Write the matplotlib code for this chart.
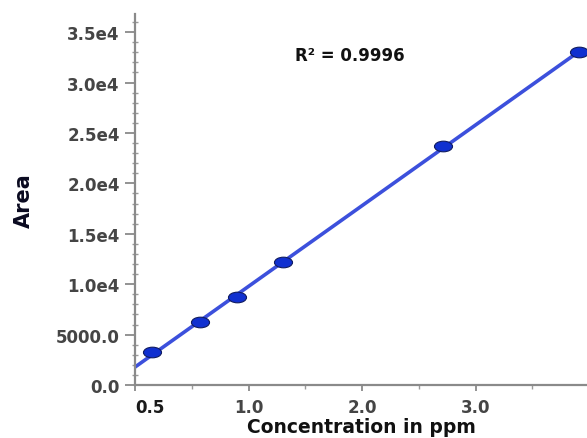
import numpy as np
import matplotlib
matplotlib.use("Agg")
import matplotlib.pyplot as plt
from matplotlib.path import Path
from matplotlib.transforms import Affine2D
from matplotlib.ticker import MultipleLocator, FixedLocator

# Data
conc = [0.147, 0.573, 0.896, 1.307, 2.716, 3.906]
area = [3240, 6220, 8700, 12230, 23730, 32990]
r2_text = "R\u00b2 = 0.9996"
x_tick_pos = [0.0, 1.0, 2.0, 3.0]
x_tick_labels = ["0.5", "1.0", "2.0", "3.0"]
y_tick_pos = [0, 5000, 10000, 15000, 20000, 25000, 30000, 35000]
y_tick_labels = ["0.0", "5000.0", "1.0e4", "1.5e4", "2.0e4", "2.5e4", "3.0e4", "3.5e4"]

plt.rcParams['font.family'] = ['DejaVu Sans']

fig = plt.figure(figsize=(5.87, 4.39), dpi=100)
ax = fig.add_axes([0.23, 0.1207, 0.77, 0.8451])

slope, intercept = np.polyfit(conc, area, 1)
xl = np.array([0.0, max(conc)])
ax.plot(xl, slope * xl + intercept, color="#3c50dc", lw=2.6, zorder=2, solid_capstyle='round')

ell = Path.unit_circle().transformed(Affine2D().scale(1.7, 1.0))
ax.plot(conc, area, linestyle='none', marker=ell, markersize=13,
        markerfacecolor="#1030d0", markeredgecolor="#101c60", markeredgewidth=0.8,
        zorder=3, clip_on=False)

ax.set_xlim(0, 3.98)
ax.set_ylim(0, 36800)

for s in ['top', 'right']:
    ax.spines[s].set_visible(False)
for s in ['left', 'bottom']:
    ax.spines[s].set_color("#8a8a8a")
    ax.spines[s].set_linewidth(1.6)

ax.yaxis.set_major_locator(FixedLocator(y_tick_pos))
ax.set_yticklabels(y_tick_labels)
ax.yaxis.set_minor_locator(MultipleLocator(1000))
ax.xaxis.set_major_locator(FixedLocator(x_tick_pos))
ax.set_xticklabels(x_tick_labels)
ax.xaxis.set_minor_locator(MultipleLocator(0.5))

ax.tick_params(axis='y', which='major', direction='out', length=7, width=1.3,
               color="#8a8a8a", pad=4, labelsize=12, labelcolor="#454545")
ax.tick_params(axis='y', which='minor', direction='inout', length=5, width=1.0, color="#9a9a9a")
ax.tick_params(axis='x', which='major', direction='out', length=4, width=1.3,
               color="#8a8a8a", pad=5, labelsize=12, labelcolor="#454545")
ax.tick_params(axis='x', which='minor', direction='out', length=3, width=1.0, color="#9a9a9a")
for lab in ax.get_yticklabels() + ax.get_xticklabels():
    lab.set_fontweight('bold')
xl0 = ax.get_xticklabels()[0]
xl0.set_horizontalalignment('left')
xl0.set_color("#1a1a1a")

ax.set_xlabel("Concentration in ppm", fontsize=13.5, fontweight='bold', color="#111111", labelpad=1)
ax.set_ylabel("Area", fontsize=15, fontweight='bold', color="#0a0a20", labelpad=16)

ax.text(0.476, 0.889, r2_text, transform=ax.transAxes, ha='center', va='center',
        fontsize=12, fontweight='bold', color="#111111")

fig.savefig("out.png", dpi=100)
